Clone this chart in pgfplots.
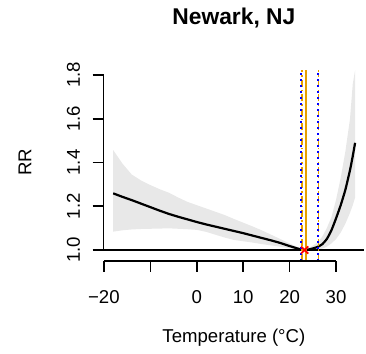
\documentclass[border=0pt]{standalone}
\usepackage{pgfplots}
\pgfplotsset{compat=1.18}
\usepackage{pgfplotstable}
\usepgfplotslibrary{fillbetween}
\usepackage{fontspec}
\setmainfont{Liberation Sans}
\definecolor{mmtorange}{HTML}{E69F00}
\definecolor{cigray}{HTML}{E8E8E8}
\pgfplotstableread{
x rr lo hi
-18 1.259 1.084 1.457
-16 1.243 1.090 1.395
-14 1.228 1.094 1.345
-12 1.212 1.096 1.318
-10 1.196 1.097 1.297
-8 1.180 1.098 1.278
-6 1.165 1.099 1.262
-4 1.152 1.097 1.240
-2 1.140 1.095 1.220
0 1.128 1.092 1.205
2 1.117 1.083 1.190
4 1.107 1.070 1.175
6 1.097 1.057 1.160
8 1.087 1.046 1.142
10 1.077 1.040 1.125
12 1.066 1.034 1.108
14 1.055 1.027 1.090
16 1.044 1.021 1.070
18 1.032 1.015 1.050
20 1.018 1.008 1.030
22 1.005 1.002 1.010
23 1.000 1.000 1.000
24 1.002 0.999 1.008
25 1.007 1.000 1.020
26 1.014 1.002 1.035
27 1.026 1.006 1.060
28 1.050 1.015 1.100
29 1.090 1.030 1.150
30 1.145 1.050 1.230
31 1.205 1.080 1.330
32 1.275 1.120 1.450
33 1.365 1.170 1.600
33.6 1.430 1.205 1.760
34.1 1.490 1.240 1.822
}\rrdata
\begin{document}
\begin{tikzpicture}
\path (0,0) rectangle (366bp,354bp);
\begin{axis}[
  at={(103.5bp,93bp)}, anchor=south west,
  scale only axis, width=260.8bp, height=191bp,
  xmin=-20.08, xmax=36.08, ymin=0.9497, ymax=1.8229,
  axis x line*=bottom, axis y line*=left,
  axis line style={draw=none},
  tick align=outside, major tick length=11bp,
  tick style={black, line width=1.5bp},
  xtick={-20,-10,0,10,20,30},
  xticklabels={{−20},{},{0},{10},{20},{30}},
  ytick={1,1.2,1.4,1.6,1.8},
  yticklabels={{1.0},{1.2},{1.4},{1.6},{1.8}},
  ticklabel style={font=\fontsize{18.6bp}{22bp}\selectfont},
  xticklabel style={anchor=center, yshift=-25bp},
  yticklabel style={anchor=center, xshift=-19bp, rotate=90},
  xlabel={Temperature (°C)},
  ylabel={RR},
  label style={font=\fontsize{18.6bp}{22bp}\selectfont},
  xlabel style={at={(axis description cs:0.5,-0.403)}, anchor=center},
  ylabel style={at={(axis description cs:-0.301,0.518)}, anchor=center, rotate=0},
  title={\textbf{Newark, NJ}},
  title style={font=\fontsize{22.8bp}{26bp}\selectfont\bfseries, at={(axis description cs:0.5,1.209)}, anchor=base},
  clip=false,
]
\addplot[name path=hi, draw=none] table[x=x, y=hi] {\rrdata};
\addplot[name path=lo, draw=none] table[x=x, y=lo] {\rrdata};
\addplot[cigray] fill between[of=hi and lo];
\addplot[black, line width=2bp] coordinates {(-20.08,1) (36.08,1)};
\addplot[black, line width=2.2bp, smooth, tension=0.3] table[x=x, y=rr] {\rrdata};
\addplot[mmtorange, line width=1.5bp, dash pattern=on 7bp off 3bp on 1.5bp off 3bp] coordinates {(22.7,0.9497) (22.7,1.8229)};
\addplot[mmtorange, line width=1.5bp, dash pattern=on 7bp off 3bp on 1.5bp off 3bp] coordinates {(26.2,0.9497) (26.2,1.8229)};
\addplot[mmtorange, line width=1.6bp] coordinates {(23.55,0.9497) (23.55,1.8229)};
\addplot[blue, line width=1.7bp, dash pattern=on 1.7bp off 4.3bp] coordinates {(22.45,0.9497) (22.45,1.8229)};
\addplot[blue, line width=1.7bp, dash pattern=on 1.7bp off 4.3bp] coordinates {(26.05,0.9497) (26.05,1.8229)};
\addplot[red, only marks, mark=x, mark size=5bp, line width=1.8bp] coordinates {(23.25,1.0)};
\draw[black, line width=1.5bp] (axis cs:-20,0.9497) -- (axis cs:30,0.9497);
\draw[black, line width=1.5bp] (axis cs:-20.08,1) -- (axis cs:-20.08,1.8);
\end{axis}
\end{tikzpicture}
\end{document}
